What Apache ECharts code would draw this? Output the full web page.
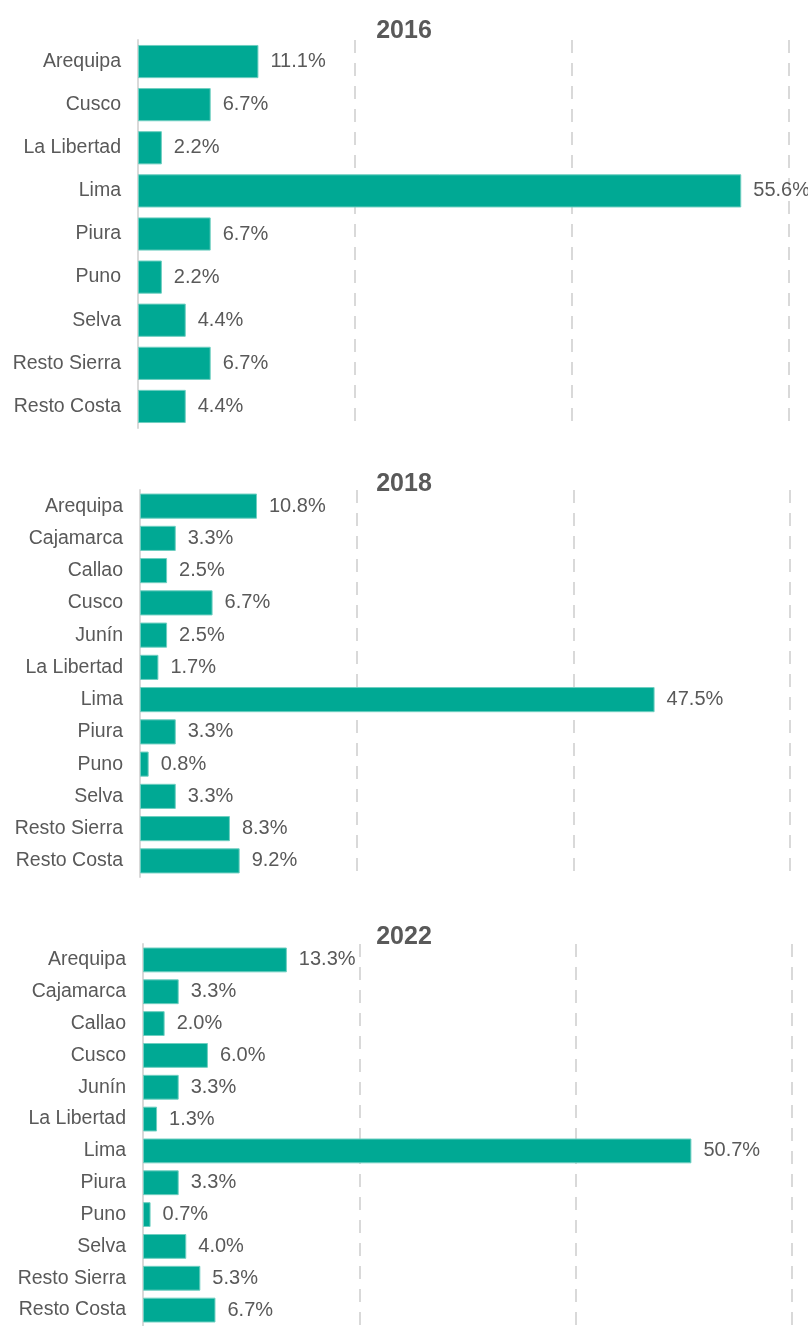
<!DOCTYPE html>
<html>
<head>
<meta charset="utf-8">
<script src="https://cdn.jsdelivr.net/npm/echarts@6/dist/echarts.min.js"></script>
<style>
  body { margin: 0; background: #fff; }
  #chart { width: 808px; height: 1326px; }
</style>
</head>
<body>
<div id="chart"></div>
<script>
// datos por año
var years = ["2016", "2018", "2022"];
var cats2016 = ["Arequipa", "Cusco", "La Libertad", "Lima", "Piura", "Puno", "Selva", "Resto Sierra", "Resto Costa"];
var vals2016 = [11.1, 6.7, 2.2, 55.6, 6.7, 2.2, 4.4, 6.7, 4.4];
var cats2018 = ["Arequipa", "Cajamarca", "Callao", "Cusco", "Junín", "La Libertad", "Lima", "Piura", "Puno", "Selva", "Resto Sierra", "Resto Costa"];
var vals2018 = [10.8, 3.3, 2.5, 6.7, 2.5, 1.7, 47.5, 3.3, 0.8, 3.3, 8.3, 9.2];
var cats2022 = ["Arequipa", "Cajamarca", "Callao", "Cusco", "Junín", "La Libertad", "Lima", "Piura", "Puno", "Selva", "Resto Sierra", "Resto Costa"];
var vals2022 = [13.3, 3.3, 2.0, 6.0, 3.3, 1.3, 50.7, 3.3, 0.7, 4.0, 5.3, 6.7];

var cats = [cats2016, cats2018, cats2022];
var vals = [vals2016, vals2018, vals2022];

var grids = [
  { left: 138, right: 19, top: 40, height: 388 },
  { left: 140, right: 18, top: 490, height: 387 },
  { left: 143, right: 16, top: 944, height: 387 }
];
var titleTops = [14, 467, 920];
var gaps = ["23%", "22%", "22%"];

var font = "Liberation Sans, Arial, sans-serif";
var gray = "#595959";

var chart = echarts.init(document.getElementById("chart"));
chart.setOption({
  animation: false,
  title: years.map(function (y, i) {
    return {
      text: y,
      left: "center",
      top: titleTops[i],
      textStyle: { fontFamily: font, fontSize: 25, fontWeight: "bold", color: gray, lineHeight: 25 }
    };
  }),
  grid: grids,
  xAxis: years.map(function (y, i) {
    return {
      type: "value",
      gridIndex: i,
      min: 0,
      max: 60,
      interval: 20,
      axisLine: { show: false },
      axisTick: { show: false },
      axisLabel: { show: false },
      splitLine: { lineStyle: { color: "#d9d9d9", width: 2, type: [13, 10] } }
    };
  }),
  yAxis: years.map(function (y, i) {
    return {
      type: "category",
      gridIndex: i,
      inverse: true,
      data: cats[i],
      axisLine: { lineStyle: { color: "#d9d9d9", width: 2 } },
      axisTick: { show: false },
      axisLabel: { fontFamily: font, fontSize: 19.5, color: gray, margin: 17 }
    };
  }),
  series: years.map(function (y, i) {
    return {
      type: "bar",
      xAxisIndex: i,
      yAxisIndex: i,
      data: vals[i],
      barCategoryGap: gaps[i],
      itemStyle: { color: "#00a994", borderColor: "#6fcfc1", borderWidth: 1 },
      label: {
        show: true,
        position: "right",
        distance: 12,
        fontFamily: font,
        fontSize: 20,
        color: gray,
        formatter: function (p) { return p.value.toFixed(1) + "%"; }
      }
    };
  })
});
</script>
</body>
</html>
